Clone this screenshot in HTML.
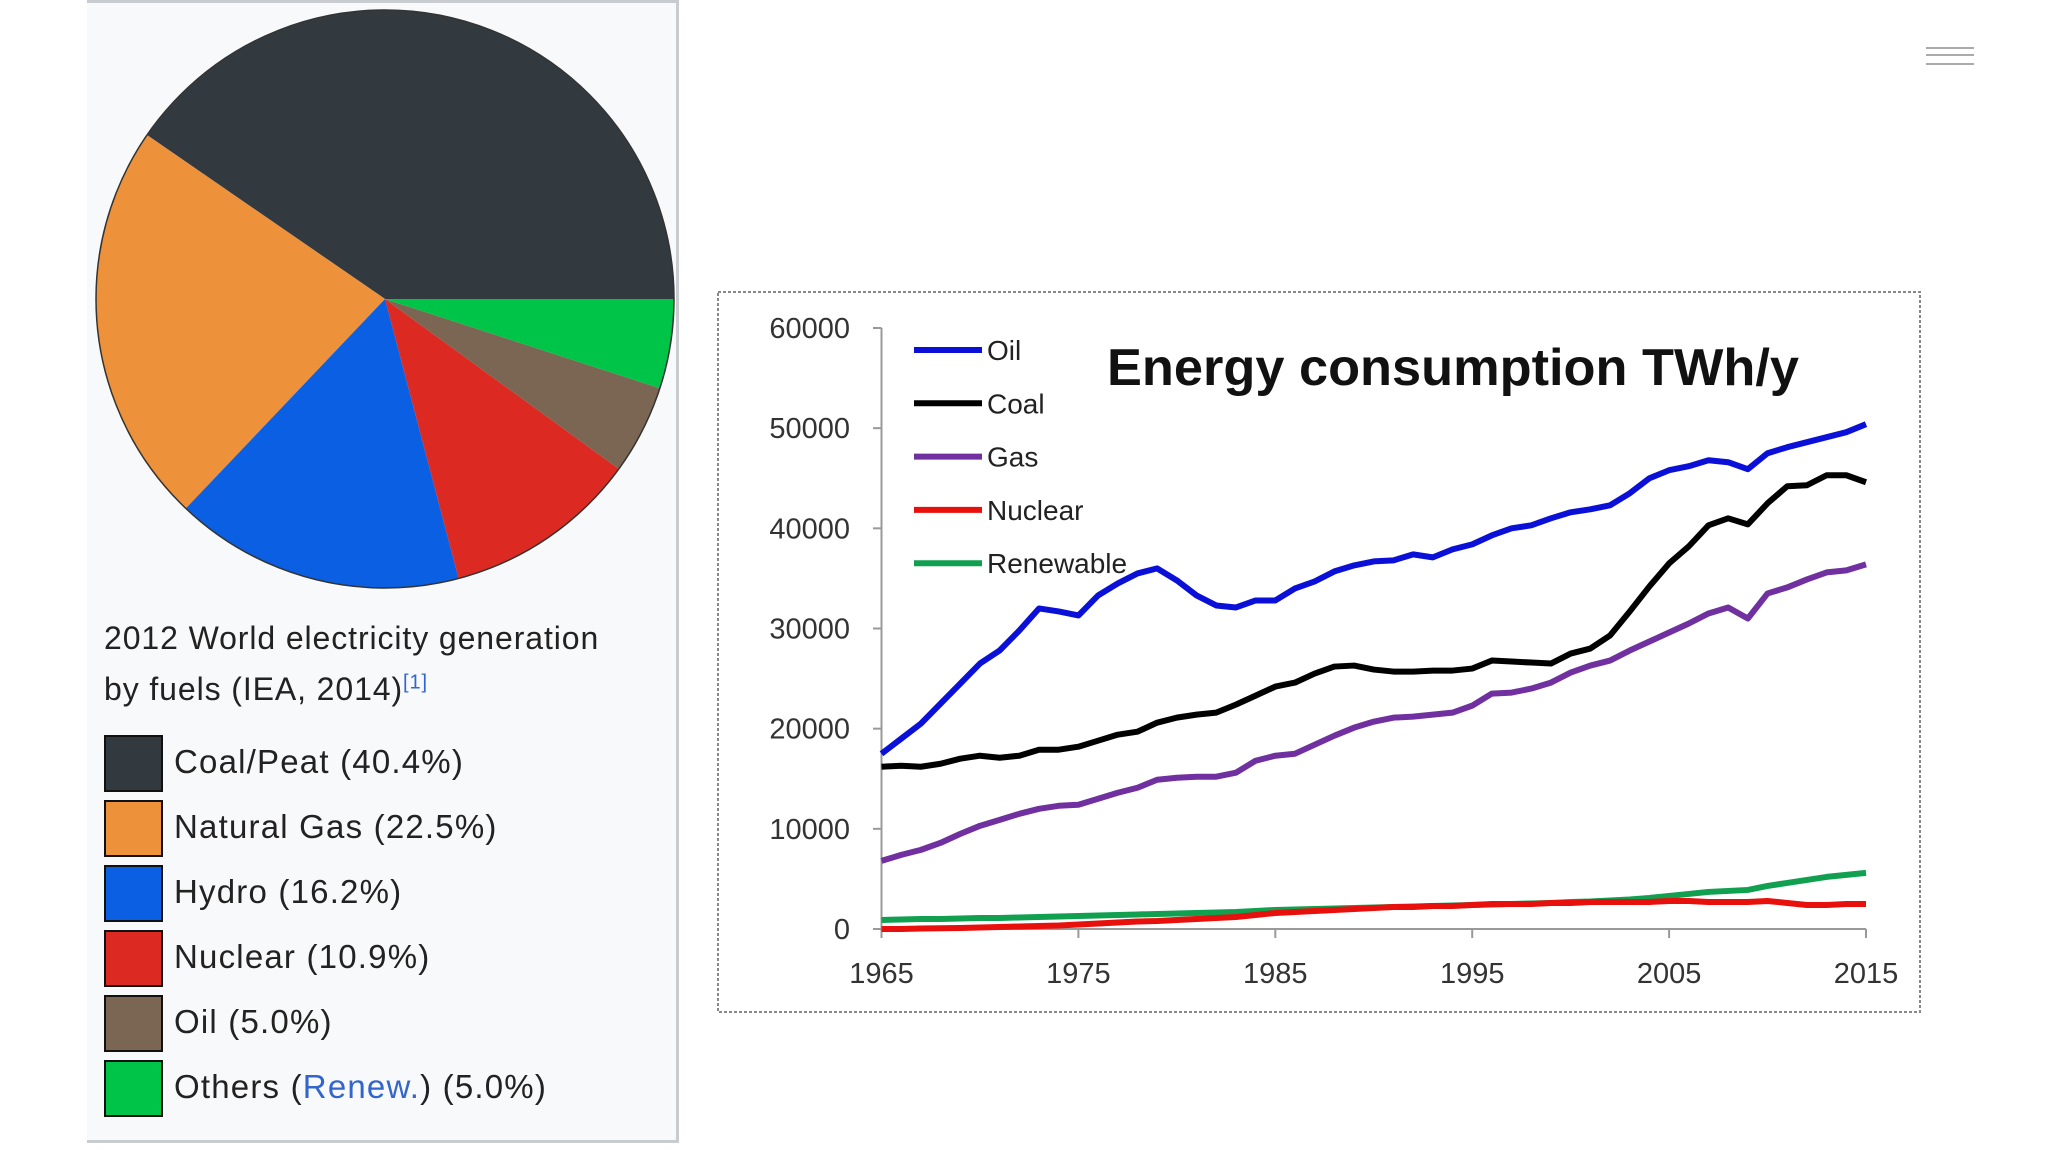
<!DOCTYPE html>
<html><head><meta charset="utf-8"><style>
html,body{margin:0;padding:0;background:#fff;}
body{width:2048px;height:1152px;position:relative;overflow:hidden;font-family:"Liberation Sans",sans-serif;}
</style></head><body>
<div style="position:absolute;left:87px;top:0;width:589px;height:1137px;background:#f8f9fa;border-right:3px solid #c8ccd1;border-bottom:3px solid #c8ccd1;border-top:3px solid #c8ccd1;"></div>
<svg id="pie" width="2048" height="1152" style="position:absolute;left:0;top:0">
</svg>
<div style="position:absolute;left:104px;top:613px;font-size:32px;letter-spacing:0.9px;line-height:51px;color:#222;">2012 World electricity generation<br>by fuels (IEA, 2014)<sup style="font-size:20px;line-height:0;color:#3366cc;">[1]</sup></div>
<div id="leg"></div>
<div style="position:absolute;left:1926px;top:47px;width:48px;height:14px;border-top:2px solid #aaa;border-bottom:2px solid #aaa;"><div style="margin-top:5px;border-top:2px solid #aaa;"></div></div>
<svg id="chart" width="2048" height="1152" style="position:absolute;left:0;top:0"></svg>
<script>
const pieLabels=["Coal/Peat (40.4%)","Natural Gas (22.5%)","Hydro (16.2%)","Nuclear (10.9%)","Oil (5.0%)","Others (Renew.) (5.0%)"];
const pieValues=[40.4,22.5,16.2,10.9,5.0,5.0];
const pieColors=["#333a3f","#ed913a","#0b5fe3","#dc2a22","#7a6652","#00c448"];
const years=[];for(let y=1965;y<=2015;y++)years.push(y);
const oil=[17500,19000,20500,22500,24500,26500,27800,29800,32000,31700,31300,33300,34500,35500,36000,34800,33300,32300,32100,32800,32800,34000,34700,35700,36300,36700,36800,37400,37100,37900,38400,39300,40000,40300,41000,41600,41900,42300,43500,45000,45800,46200,46800,46600,45900,47500,48100,48600,49100,49600,50400];
const coal=[16200,16300,16200,16500,17000,17300,17100,17300,17900,17900,18200,18800,19400,19700,20600,21100,21400,21600,22400,23300,24200,24600,25500,26200,26300,25900,25700,25700,25800,25800,26000,26800,26700,26600,26500,27500,28000,29300,31700,34200,36500,38200,40300,41000,40400,42500,44200,44300,45300,45300,44600];
const gas=[6800,7400,7900,8600,9500,10300,10900,11500,12000,12300,12400,13000,13600,14100,14900,15100,15200,15200,15600,16800,17300,17500,18400,19300,20100,20700,21100,21200,21400,21600,22300,23500,23600,24000,24600,25600,26300,26800,27800,28700,29600,30500,31500,32100,31000,33500,34100,34900,35600,35800,36400];
const nuclear=[0,0,50,80,100,150,200,250,300,350,450,550,650,750,800,900,1000,1100,1200,1400,1600,1700,1800,1900,2000,2100,2200,2200,2300,2300,2400,2500,2500,2500,2600,2600,2700,2700,2700,2700,2800,2800,2700,2700,2700,2800,2600,2400,2400,2500,2500];
const renewable=[900,950,1000,1000,1050,1100,1100,1150,1200,1250,1300,1350,1400,1450,1500,1550,1600,1650,1700,1800,1900,1950,2000,2050,2100,2150,2200,2250,2300,2350,2400,2450,2500,2550,2600,2700,2750,2850,2950,3100,3300,3500,3700,3800,3900,4300,4600,4900,5200,5400,5600];
const seriesNames=["Oil","Coal","Gas","Nuclear","Renewable"];
const seriesColors=["#0a10d8","#000000","#7030a0","#e8100c","#10a050"];
const seriesData=[oil,coal,gas,nuclear,renewable];
const yTicks=[0,10000,20000,30000,40000,50000,60000];
const xTicks=[1965,1975,1985,1995,2005,2015];
const NS="http://www.w3.org/2000/svg";
function mk(p,t,a){const e=document.createElementNS(NS,t);for(const k in a)e.setAttribute(k,a[k]);p.appendChild(e);return e;}
const pie=document.getElementById('pie');
const cx=385,cy=299,r=289;let tot=pieValues.reduce((a,b)=>a+b,0),acc=0;
pieValues.forEach((v,i)=>{
 const a0=acc/tot*2*Math.PI;acc+=v;const a1=acc/tot*2*Math.PI;
 const x0=cx+r*Math.cos(a0),y0=cy-r*Math.sin(a0),x1=cx+r*Math.cos(a1),y1=cy-r*Math.sin(a1);
 const p=mk(pie,'path',{d:`M${cx},${cy}L${x0},${y0}A${r},${r} 0 ${(a1-a0)>Math.PI?1:0} 0 ${x1},${y1}Z`,fill:pieColors[i]});
 
 
});
mk(pie,'circle',{cx:cx,cy:cy,r:r,fill:'none',stroke:'#333','stroke-width':1.5});
const leg=document.getElementById('leg');
pieLabels.forEach((l,i)=>{
 const d=document.createElement('div');
 
 
 d.style.cssText=`position:absolute;left:104px;top:${735+i*65}px;height:57px;font-size:33px;letter-spacing:1.2px;color:#222;white-space:nowrap;`;
 const html=l.replace('Renew.','<span style="color:#3366cc">Renew.</span>');
 d.innerHTML=`<span style="position:absolute;left:0;top:0;width:55px;height:53px;background:${pieColors[i]};border:2px solid #111;"></span><span style="position:absolute;left:70px;top:8px;">${html}</span>`;
 leg.appendChild(d);
});
const ch=document.getElementById('chart');
const X=y=>881.5+(y-1965)/50*(1866-881.5);
const Y=v=>929-v/60000*(929-328);
mk(ch,'rect',{x:718,y:292,width:1202,height:720,fill:'#fff',stroke:'#888','stroke-width':2,'stroke-dasharray':'3,2'});
mk(ch,'line',{x1:881.5,y1:328,x2:881.5,y2:929,stroke:'#999','stroke-width':2});
mk(ch,'line',{x1:881.5,y1:929,x2:1866,y2:929,stroke:'#999','stroke-width':2});
yTicks.forEach(v=>{
 mk(ch,'line',{x1:873,y1:Y(v),x2:881.5,y2:Y(v),stroke:'#999','stroke-width':2});
 const t=mk(ch,'text',{x:850,y:Y(v)+10,'text-anchor':'end','font-size':29,fill:'#333','font-family':'Liberation Sans, sans-serif'});t.textContent=v;
 
 
});
xTicks.forEach(v=>{
 mk(ch,'line',{x1:X(v),y1:929,x2:X(v),y2:938,stroke:'#999','stroke-width':2});
 const t=mk(ch,'text',{x:X(v),y:983,'text-anchor':'middle','font-size':29,fill:'#333','font-family':'Liberation Sans, sans-serif'});t.textContent=v;
 
 
});
for(let s=seriesData.length-1;s>=0;s--){
 const pts=seriesData[s].map((v,i)=>X(years[i])+','+Y(v)).join(' ');
 const pl=mk(ch,'polyline',{points:pts,fill:'none',stroke:seriesColors[s],'stroke-width':6,'stroke-linejoin':'round'});
 
 
}
seriesNames.forEach((n,i)=>{
 const y=350+i*53.3;
 const ln=mk(ch,'line',{x1:914,y1:y,x2:982,y2:y,stroke:seriesColors[i],'stroke-width':6});
 
 const t=mk(ch,'text',{x:987,y:y+10,'font-size':28,fill:'#222','font-family':'Liberation Sans, sans-serif'});t.textContent=n;
 
 
});
const tt=mk(ch,'text',{x:1107,y:385,'font-size':52,'font-weight':'bold',fill:'#111','font-family':'Liberation Sans, sans-serif',textLength:692,lengthAdjust:'spacingAndGlyphs'});
tt.textContent='Energy consumption TWh/y';


</script>
</body></html>
